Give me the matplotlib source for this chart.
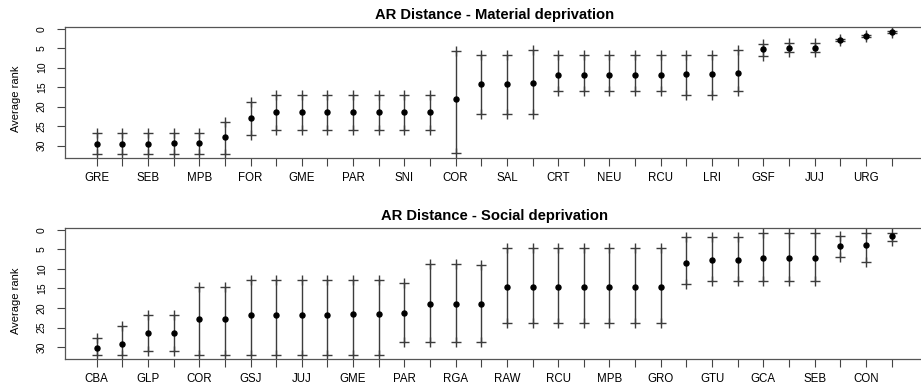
import numpy as np
import matplotlib
matplotlib.use("Agg")
import matplotlib.pyplot as plt

plt.rcParams['font.family'] = ['Liberation Sans', 'DejaVu Sans']

# Material deprivation: every other label shown in the reference
mat_labels = ['GRE', '', 'SEB', '', 'MPB', '', 'FOR', '', 'GME', '', 'PAR', '', 'SNI', '', 'COR', '',
              'SAL', '', 'CRT', '', 'NEU', '', 'RCU', '', 'LRI', '', 'GSF', '', 'JUJ', '', 'URG', '']
mat_mean = [29.5, 29.5, 29.5, 29.3, 29.3, 27.9, 22.8, 21.5, 21.5, 21.5, 21.5, 21.5, 21.5, 21.5, 18.0, 14.3,
            14.3, 14.0, 11.8, 11.8, 11.8, 11.8, 11.8, 11.6, 11.6, 11.4, 5.2, 5.0, 5.0, 2.9, 1.9, 0.85]
mat_hi = [26.75, 26.75, 26.75, 26.75, 26.75, 23.85, 18.9, 17.0, 17.0, 17.0, 17.0, 17.0, 17.0, 17.0, 5.8, 6.8,
          6.8, 5.6, 6.8, 6.8, 6.8, 6.8, 6.8, 6.8, 6.8, 5.6, 3.9, 3.8, 3.8, 2.7, 1.7, 0.65]
mat_lo = [32.05, 32.05, 32.05, 32.05, 32.05, 32.05, 27.2, 26.0, 26.0, 26.0, 26.0, 26.0, 26.0, 26.0, 32.0, 22.0,
          22.0, 22.0, 15.9, 15.9, 15.9, 15.9, 15.9, 17.1, 17.1, 15.9, 6.9, 6.0, 6.0, 3.1, 2.1, 1.05]

# Social deprivation
soc_labels = ['CBA', '', 'GLP', '', 'COR', '', 'GSJ', '', 'JUJ', '', 'GME', '', 'PAR', '', 'RGA', '',
              'RAW', '', 'RCU', '', 'MPB', '', 'GRO', '', 'GTU', '', 'GCA', '', 'SEB', '', 'CON', '']
soc_mean = [30.2, 29.2, 26.3, 26.3, 22.8, 22.8, 21.9, 21.9, 21.9, 21.7, 21.6, 21.6, 21.2, 18.9, 18.9, 18.9,
            14.6, 14.6, 14.6, 14.6, 14.6, 14.6, 14.6, 8.6, 7.8, 7.8, 7.2, 7.2, 7.2, 4.1, 3.9, 1.55]
soc_hi = [27.7, 24.6, 21.7, 21.7, 14.7, 14.7, 12.9, 12.9, 12.9, 12.9, 12.9, 12.9, 13.7, 8.7, 8.7, 8.9,
          4.6, 4.6, 4.6, 4.6, 4.6, 4.6, 4.6, 1.9, 1.9, 1.9, 0.85, 0.85, 0.85, 1.6, 0.75, 0.85]
soc_lo = [32.0, 32.0, 30.9, 30.9, 32.0, 32.0, 32.0, 32.0, 32.0, 32.0, 32.0, 32.0, 28.7, 28.7, 28.7, 28.8,
          23.9, 23.9, 23.9, 23.9, 23.9, 23.9, 23.9, 13.9, 13.0, 13.0, 13.0, 13.0, 13.0, 7.0, 8.2, 2.9]


def rank_panel(ax, labels, mean, hi, lo, title):
    x = np.arange(1, len(mean) + 1)
    ax.vlines(x, hi, lo, color='#3c3c3c', lw=1.0)
    ax.plot(x, hi, '+', color='#3c3c3c', ms=6.5, mew=1.0)
    ax.plot(x, lo, '+', color='#3c3c3c', ms=6.5, mew=1.0)
    ax.plot(x, mean, 'o', color='black', ms=3.6)
    ax.set_xlim(-0.24, 33.24)
    ax.set_ylim(33.1, -0.35)
    ax.set_xticks(x)
    ax.set_xticklabels(labels, fontsize=8.3)
    ax.set_yticks([0, 5, 10, 15, 20, 25, 30])
    ax.set_yticklabels(['0', '5', '10', '15', '20', '25', '30'], rotation=90, va='center', fontsize=7.5)
    ax.tick_params(axis='x', length=6, width=0.8, color='#444444', pad=4)
    ax.tick_params(axis='y', length=6, width=0.8, color='#444444', pad=7)
    for sp in ax.spines.values():
        sp.set_color('#555555')
        sp.set_linewidth(0.9)
    ax.set_ylabel('Average rank', fontsize=8)
    ax.yaxis.set_label_coords(-0.051, 0.45)
    ax.set_title(title, fontsize=10.6, fontweight='bold', pad=6)


fig = plt.figure(figsize=(9.21, 3.87), dpi=100)
ax1 = fig.add_axes([0.0705, 0.5925, 0.932, 0.337])
ax2 = fig.add_axes([0.0705, 0.0716, 0.932, 0.3385])

rank_panel(ax1, mat_labels, mat_mean, mat_hi, mat_lo, 'AR Distance - Material deprivation')
rank_panel(ax2, soc_labels, soc_mean, soc_hi, soc_lo, 'AR Distance - Social deprivation')

fig.savefig('out.png', dpi=100)
